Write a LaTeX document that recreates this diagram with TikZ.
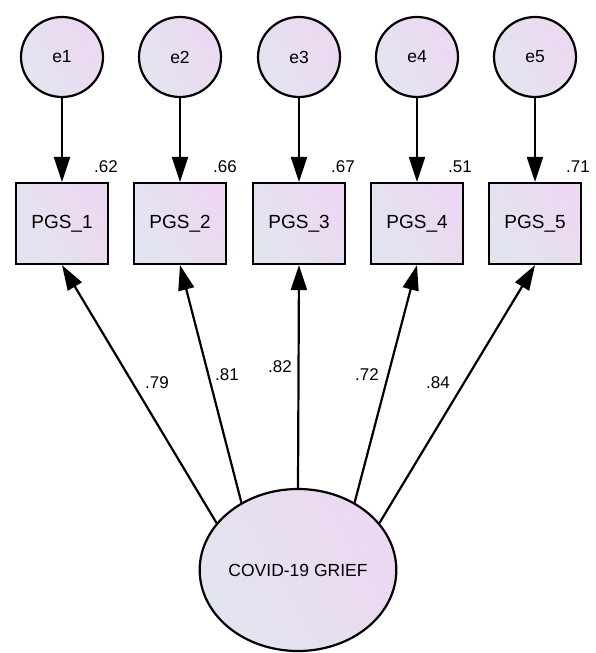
\documentclass[tikz,border=0pt]{standalone}
\usepackage{fontspec}
\setmainfont{Liberation Sans}
\usetikzlibrary{arrows.meta,shapes.geometric,calc}
\definecolor{fillA}{HTML}{E2E5F0}
\definecolor{fillB}{HTML}{EDD7F2}
\tikzset{
  grad/.style={left color=fillA, right color=fillB, shading angle=120},
  errc/.style={ellipse, draw=black, line width=2.2pt, grad, minimum width=82pt, minimum height=80pt, inner sep=0pt, font=\fontsize{17.5}{20}\selectfont},
  obsbox/.style={rectangle, draw=black, line width=2.2pt, grad, minimum width=92pt, minimum height=81pt, inner sep=0pt, font=\fontsize{19}{22}\selectfont},
  latc/.style={ellipse, draw=black, line width=2.2pt, grad, minimum width=188pt, minimum height=162pt, inner sep=0pt, font=\fontsize{17.5}{20}\selectfont},
  conn/.style={line width=2.2pt, -{Triangle[length=25pt,width=16pt]}},
  lab/.style={font=\fontsize{17}{20}\selectfont, inner sep=0pt}
}
\begin{document}
\begin{tikzpicture}[x=1pt,y=-1pt]
\useasboundingbox (0,0) rectangle (596,653);
% error terms
\node[errc] (e1) at (62,57) {e1};
\node[errc] (e2) at (180,57) {e2};
\node[errc] (e3) at (299,57) {e3};
\node[errc] (e4) at (417,57) {e4};
\node[errc] (e5) at (535,57) {e5};
% observed
\node[obsbox] (b1) at (62,223.5) {PGS\_1};
\node[obsbox] (b2) at (180,223.5) {PGS\_2};
\node[obsbox] (b3) at (299,223.5) {PGS\_3};
\node[obsbox] (b4) at (417,223.5) {PGS\_4};
\node[obsbox] (b5) at (535,223.5) {PGS\_5};
% latent
\node[latc] (g) at (298,570) {COVID-19 GRIEF};
% error arrows
\foreach \i in {1,...,5} \draw[conn] (e\i) -- (b\i);
% loadings
\draw[conn] (g.150) -- (b1.south);
\draw[conn] (g.130) -- (b2.south);
\draw[conn] (g.90) -- (b3.south);
\draw[conn] (g.50) -- (b4.south);
\draw[conn] (g.30) -- (b5.south);
% R2 labels
\node[lab] (r1) at (106,167) {.62};
\node[lab] (r2) at (225,167) {.66};
\node[lab] (r3) at (343,167) {.67};
\node[lab] (r4) at (460,167) {.51};
\node[lab] (r5) at (578,167) {.71};
% loading labels
\node[lab] (l1) at (157,383) {.79};
\node[lab] (l2) at (227,375) {.81};
\node[lab] (l3) at (280,367) {.82};
\node[lab] (l4) at (367,375) {.72};
\node[lab] (l5) at (438,383) {.84};
\end{tikzpicture}
\end{document}
